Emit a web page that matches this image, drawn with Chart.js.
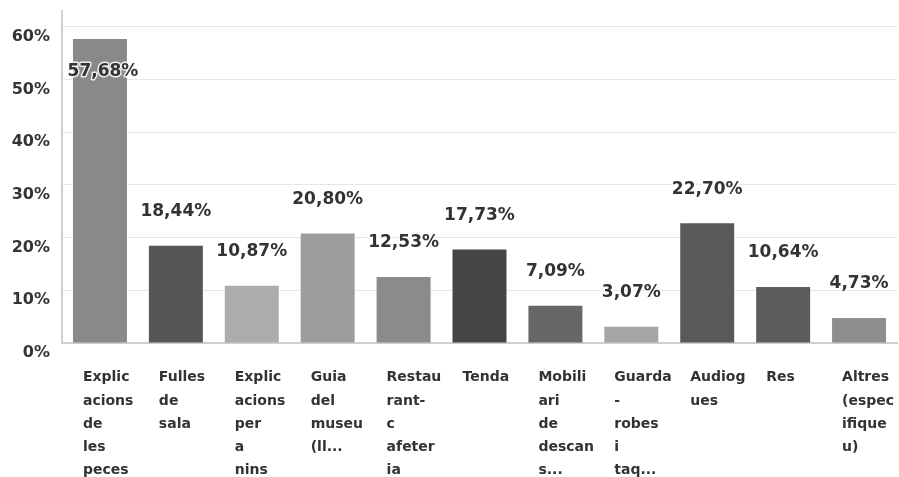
<!DOCTYPE html>
<html>
<head>
<meta charset="utf-8">
<script src="https://cdn.jsdelivr.net/npm/chart.js@4.4.0/dist/chart.umd.min.js"></script>
<style>
  html, body { margin: 0; padding: 0; background: #fff; }
  #wrap { width: 899px; height: 477px; }
</style>
</head>
<body>
<div id="wrap"><canvas id="chart"></canvas></div>
<script>
// categories, already wrapped like in the source picture
const categories = [
  ['Explic', 'acions', 'de', 'les', 'peces'],
  ['Fulles', 'de', 'sala'],
  ['Explic', 'acions', 'per', 'a', 'nins'],
  ['Guia', 'del', 'museu', '(ll...'],
  ['Restau', 'rant-', 'c', 'afeter', 'ia'],
  ['Tenda'],
  ['Mobili', 'ari', 'de', 'descan', 's...'],
  ['Guarda', '-', 'robes', 'i', 'taq...'],
  ['Audiog', 'ues'],
  ['Res'],
  ['Altres', '(espec', 'ifique', 'u)']
];
const values = [57.68, 18.44, 10.87, 20.80, 12.53, 17.73, 7.09, 3.07, 22.70, 10.64, 4.73];
const barColors = ['#898989', '#565656', '#acacac', '#9d9d9d', '#8b8b8b', '#454545',
                   '#676767', '#a5a5a5', '#595959', '#5d5d5d', '#8e8e8e'];
const yTicks = [0, 10, 20, 30, 40, 50, 60];

const FONT = '"DejaVu Sans", sans-serif';

// valeurs au-dessus des barres (dans la barre si pas de place)
const valueLabels = {
  id: 'valueLabels',
  afterDatasetsDraw(chart) {
    const ctx = chart.ctx;
    const meta = chart.getDatasetMeta(0);
    ctx.save();
    ctx.font = 'bold 17px ' + FONT;
    ctx.textAlign = 'center';
    ctx.textBaseline = 'middle';
    ctx.lineJoin = 'round';
    meta.data.forEach(function(bar, i) {
      const text = values[i].toFixed(2).replace('.', ',') + '%';
      let y = bar.y - 34;
      let x = bar.x;
      if (y - 10 < chart.chartArea.top) {
        y = bar.y + 33;
        x = bar.x + 3;
      }
      ctx.strokeStyle = 'rgba(255,255,255,0.85)';
      ctx.lineWidth = 3;
      ctx.strokeText(text, x, y);
      ctx.fillStyle = '#333';
      ctx.fillText(text, x, y);
    });
    ctx.restore();
  }
};

new Chart(document.getElementById('chart'), {
  type: 'bar',
  data: {
    labels: categories,
    datasets: [{
      data: values,
      backgroundColor: barColors,
      borderWidth: 0,
      barPercentage: 0.9,
      categoryPercentage: 0.79
    }]
  },
  options: {
    responsive: true,
    maintainAspectRatio: false,
    animation: false,
    layout: { padding: { top: 11, left: 12, right: 2, bottom: 0 } },
    plugins: {
      legend: { display: false },
      tooltip: { enabled: false }
    },
    scales: {
      x: {
        grid: { display: false, drawTicks: false },
        border: { display: true, color: '#cfcfcf', width: 2 },
        afterFit: function(scale) {
          scale.paddingLeft = 0;
          scale.paddingRight = 0;
          scale.height = 134;
        },
        ticks: {
          autoSkip: false,
          maxRotation: 0,
          minRotation: 0,
          align: 'start',
          labelOffset: -17,
          padding: 23,
          color: '#333',
          font: { family: FONT, size: 14, weight: 'bold', lineHeight: 1.66 }
        }
      },
      y: {
        min: 0,
        max: 63,
        afterBuildTicks: function(scale) {
          scale.ticks = yTicks.map(v => ({ value: v }));
        },
        afterFit: function(scale) {
          scale.paddingTop = 0;
          scale.paddingBottom = 0;
          scale.width = 50;
        },
        grid: { color: '#e6e6e6', drawTicks: false },
        border: { color: '#cfcfcf', width: 2 },
        ticks: {
          padding: 12,
          labelOffset: 10,
          color: '#333',
          font: { family: FONT, size: 16, weight: 'bold' },
          callback: v => v + '%'
        }
      }
    }
  },
  plugins: [valueLabels]
});
</script>
</body>
</html>
